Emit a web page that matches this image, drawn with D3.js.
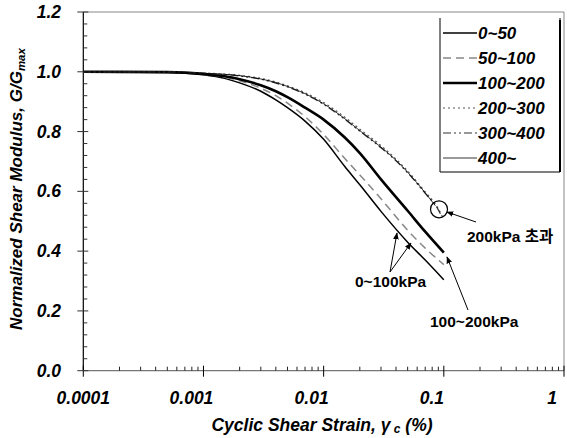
<!DOCTYPE html>
<html><head><meta charset="utf-8">
<script src="https://cdn.jsdelivr.net/npm/d3@7"></script>
<style>body{margin:0;background:#fff}svg{display:block}</style>
</head><body><svg id="c" width="567" height="438"></svg>
<script>
// strain (%) and G/Gmax
const s0_50   = [0.0001,0.0005,0.001,0.0015,0.002,0.003,0.004,0.005,0.007,0.01,0.015,0.02,0.03,0.05,0.07,0.1];
const g0_50   = [1.0,0.998,0.99,0.978,0.963,0.935,0.906,0.88,0.835,0.774,0.683,0.622,0.533,0.43,0.37,0.304];
const s50_100 = [0.0001,0.0005,0.001,0.0015,0.002,0.003,0.004,0.005,0.007,0.01,0.015,0.02,0.03,0.05,0.07,0.1];
const g50_100 = [1.0,0.999,0.992,0.982,0.97,0.945,0.92,0.895,0.85,0.79,0.71,0.655,0.575,0.47,0.41,0.355];
const s100_200= [0.0001,0.0005,0.001,0.0015,0.002,0.003,0.004,0.005,0.007,0.01,0.015,0.02,0.03,0.05,0.07,0.1];
const g100_200= [1.0,0.999,0.993,0.985,0.975,0.955,0.935,0.915,0.88,0.84,0.78,0.728,0.64,0.535,0.465,0.395];
const s200_300= [0.0001,0.0005,0.001,0.002,0.003,0.004,0.005,0.007,0.01,0.015,0.02,0.03,0.04,0.05,0.07,0.09,0.1];
const g200_300= [1.0,0.999,0.996,0.988,0.978,0.966,0.953,0.93,0.897,0.848,0.808,0.753,0.708,0.668,0.598,0.542,0.505];
const s300_400= [0.0001,0.0005,0.001,0.002,0.003,0.004,0.005,0.007,0.01,0.015,0.02,0.03,0.04,0.05,0.07,0.09,0.095];
const g300_400= [1.0,0.999,0.995,0.986,0.975,0.962,0.949,0.925,0.891,0.841,0.801,0.746,0.702,0.662,0.593,0.538,0.52];
const s400    = [0.0001,0.0005,0.001,0.002,0.003,0.004,0.005,0.007,0.01,0.015,0.02,0.03,0.04,0.05,0.07,0.085];
const g400    = [1.0,0.999,0.995,0.987,0.976,0.964,0.951,0.927,0.893,0.843,0.803,0.748,0.704,0.664,0.595,0.552];
const seriesNames = ["0~50","50~100","100~200","200~300","300~400","400~"];
const xTicks = [0.0001,0.001,0.01,0.1,1];
const xTickLabels = ["0.0001","0.001","0.01","0.1","1"];
const yTicks = [0,0.2,0.4,0.6,0.8,1.0,1.2];
const yTickLabels = ["0.0","0.2","0.4","0.6","0.8","1.0","1.2"];

const svg = d3.select("#c");
const L=83.3, R=564, T=12, B=370.7;
const x = d3.scaleLog().domain([0.0001,1]).range([L,R]);
const y = d3.scaleLinear().domain([0,1.2]).range([B,T]);
const font = "'Liberation Sans', Arial, sans-serif";

// border
svg.append("path").attr("d",`M${L},${T}H${R}V${B}`).attr("fill","none").attr("stroke","#888").attr("stroke-width",1);

// x axis
svg.append("line").attr("x1",L).attr("x2",R).attr("y1",B).attr("y2",B).attr("stroke","#777").attr("stroke-width",1.3);
const minors=[];
for(let e=-4;e<0;e++) for(let k=2;k<=9;k++) minors.push(k*Math.pow(10,e));
svg.selectAll(".xm").data(minors).join("line").attr("x1",d=>x(d)).attr("x2",d=>x(d)).attr("y1",B-4).attr("y2",B).attr("stroke","#222");
svg.selectAll(".xM").data(xTicks).join("line").attr("x1",d=>x(d)).attr("x2",d=>x(d)).attr("y1",B-5).attr("y2",B+6).attr("stroke","#000");
svg.selectAll(".xl").data(xTicks).join("text").attr("x",(d,i)=>x(d)-(i?12:0)).attr("y",B+33)
  .attr("text-anchor","middle").attr("font-family",font).attr("font-weight","bold").attr("font-style","italic").attr("font-size",17.5)
  .text((d,i)=>xTickLabels[i]);

// y axis
svg.append("line").attr("x1",L).attr("x2",L).attr("y1",T).attr("y2",B).attr("stroke","#000").attr("stroke-width",1.2);
const yMinor=d3.range(0,1.2001,0.04).filter(v=>Math.abs(v/0.2-Math.round(v/0.2))>0.01);
svg.selectAll(".ym").data(yMinor).join("line").attr("x1",L).attr("x2",L+4).attr("y1",d=>y(d)).attr("y2",d=>y(d)).attr("stroke","#333");
svg.selectAll(".yM").data(yTicks).join("line").attr("x1",L-6).attr("x2",L+5).attr("y1",d=>y(d)).attr("y2",d=>y(d)).attr("stroke","#333");
svg.selectAll(".yl").data(yTicks).join("text").attr("x",61).attr("y",d=>y(d)+6)
  .attr("text-anchor","end").attr("font-family",font).attr("font-weight","bold").attr("font-style","italic").attr("font-size",17.5)
  .text((d,i)=>yTickLabels[i]);

// axis titles
const yt = svg.append("text").attr("transform","translate(22,189) rotate(-90)").attr("text-anchor","middle")
  .attr("font-family",font).attr("font-weight","bold").attr("font-style","italic").attr("font-size",17);
yt.append("tspan").text("Normalized Shear Modulus, G/G");
yt.append("tspan").attr("font-size",11.5).attr("dy",3).text("max");
const xt = svg.append("text").attr("x",322).attr("y",431).attr("text-anchor","middle")
  .attr("font-family",font).attr("font-weight","bold").attr("font-style","italic").attr("font-size",17.5);
xt.append("tspan").text("Cyclic Shear Strain, γ");
xt.append("tspan").attr("font-size",12).attr("dy",2).text(" c");
xt.append("tspan").attr("dy",-2).text(" (%)");

// series
const styles = [
  {s:s0_50,g:g0_50,stroke:"#000",w:1.5,dash:null},
  {s:s50_100,g:g50_100,stroke:"#888",w:1.5,dash:"8,5"},
  {s:s100_200,g:g100_200,stroke:"#000",w:2.6,dash:null},
  {s:s200_300,g:g200_300,stroke:"#555",w:1.2,dash:"2,3"},
  {s:s300_400,g:g300_400,stroke:"#333",w:1.2,dash:"8,3,2,3,2,3"},
  {s:s400,g:g400,stroke:"#000",w:0.8,dash:null}
];
const line = d3.line().x(d=>x(d[0])).y(d=>y(d[1])).curve(d3.curveMonotoneX);
styles.forEach(st=>{
  svg.append("path").datum(st.s.map((v,i)=>[v,st.g[i]])).attr("d",line).attr("fill","none")
    .attr("stroke",st.stroke).attr("stroke-width",st.w).attr("stroke-dasharray",st.dash);
});

// legend
const lg = svg.append("g");
lg.append("path").attr("d","M440,18V172H560V18").attr("fill","none").attr("stroke","#000").attr("stroke-width",1);
lg.append("line").attr("x1",560).attr("x2",560).attr("y1",20).attr("y2",172).attr("stroke","#000").attr("stroke-width",2);
seriesNames.forEach((n,i)=>{
  const yy = 33 + i*25;
  const st = styles[i];
  lg.append("line").attr("x1",443).attr("x2",477).attr("y1",yy).attr("y2",yy)
    .attr("stroke",st.stroke).attr("stroke-width",st.w).attr("stroke-dasharray",st.dash);
  lg.append("text").attr("x",478).attr("y",yy+6).attr("font-family",font).attr("font-weight","bold")
    .attr("font-style","italic").attr("font-size",17).text(n);
});

// annotations
const ann = svg.append("g").attr("font-family",font).attr("font-weight","bold").attr("font-size",15.5);
svg.append("defs").append("marker").attr("id","ah").attr("viewBox","0 0 10 10").attr("refX",9).attr("refY",5)
  .attr("markerWidth",7).attr("markerHeight",7).attr("orient","auto")
  .append("path").attr("d","M0,1L10,5L0,9Z").attr("fill","#000");
svg.append("circle").attr("cx",x(0.0912)).attr("cy",y(0.54)).attr("r",8.5).attr("fill","none").attr("stroke","#000").attr("stroke-width",1.2);
const arrows = [
  [476,222,447,212],[390,272,397,233],[390,272,411,243],[468,310,447,257]
];
arrows.forEach(a=>svg.append("line").attr("x1",a[0]).attr("y1",a[1]).attr("x2",a[2]).attr("y2",a[3])
  .attr("stroke","#000").attr("stroke-width",1).attr("marker-end","url(#ah)"));
ann.append("text").attr("x",467).attr("y",242).text("200kPa ").append("tspan").attr("font-family","'Noto Sans CJK KR'").text("초과");
ann.append("text").attr("x",355).attr("y",287).text("0~100kPa");
ann.append("text").attr("x",430).attr("y",327).text("100~200kPa");
</script></body></html>
